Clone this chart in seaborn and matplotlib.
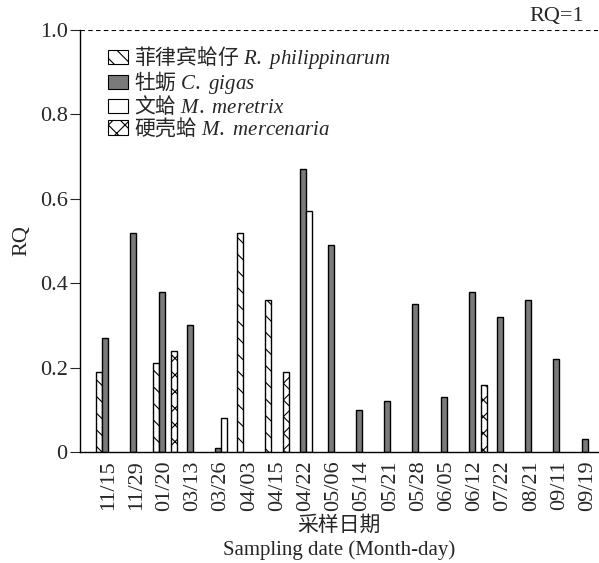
import numpy as np
import pandas as pd
import matplotlib
matplotlib.use("Agg")
import matplotlib.pyplot as plt
from matplotlib.patches import Patch
import seaborn as sns

dates = ["11/15", "11/29", "01/20", "03/13", "03/26", "04/03", "04/15", "04/22", "05/06",
         "05/14", "05/21", "05/28", "06/05", "06/12", "07/22", "08/21", "09/11", "09/19"]
species = ["phil", "gigas", "meretrix", "mercenaria"]
labels = ["$\\mathrm{菲律宾蛤仔}\\ \\mathit{R.\\ philippinarum}$",
          "$\\mathrm{牡蛎}\\ \\mathit{C.\\ gigas}$",
          "$\\mathrm{文蛤}\\ \\mathit{M.\\ meretrix}$",
          "$\\mathrm{硬壳蛤}\\ \\mathit{M.\\ mercenaria}$"]

phil = {"11/15": 0.19, "01/20": 0.21, "04/03": 0.52, "04/15": 0.36}
gigas = {"11/15": 0.27, "11/29": 0.52, "01/20": 0.38, "03/13": 0.30, "03/26": 0.01,
         "04/22": 0.67, "05/06": 0.49, "05/14": 0.10, "05/21": 0.12, "05/28": 0.35,
         "06/05": 0.13, "06/12": 0.38, "07/22": 0.32, "08/21": 0.36, "09/11": 0.22,
         "09/19": 0.03}
meretrix = {"03/26": 0.08, "04/22": 0.57}
mercenaria = {"01/20": 0.24, "04/15": 0.19, "06/12": 0.16}

rows = []
for sp, d in zip(species, [phil, gigas, meretrix, mercenaria]):
    for k, v in d.items():
        rows.append({"date": k, "species": sp, "RQ": v})
df = pd.DataFrame(rows)

sns.set_style("ticks")
plt.rcParams['font.family'] = ['Liberation Serif', 'Noto Sans CJK SC']
plt.rcParams['mathtext.fontset'] = 'custom'
plt.rcParams['mathtext.it'] = 'Liberation Serif:italic'
plt.rcParams['mathtext.rm'] = 'Noto Sans CJK SC'
plt.rcParams['hatch.linewidth'] = 0.8

fig = plt.figure(figsize=(5.99, 5.63), dpi=100)
ax = fig.add_axes([0.1336, 0.197, 0.864, 0.75])

facecolors = {"phil": "white", "gigas": "#7a7a7a", "meretrix": "white", "mercenaria": "white"}
hatches = {"phil": "\\\\", "gigas": "", "meretrix": "", "mercenaria": "xx"}

sns.barplot(data=df, x="date", y="RQ", hue="species", order=dates, hue_order=species,
            palette=facecolors, width=0.85, edgecolor="black", linewidth=1.0,
            ax=ax, legend=False, errorbar=None)

handles = []
for cont, sp, lab in zip(ax.containers, species, labels):
    for p in cont.patches:
        p.set_facecolor(facecolors[sp])
        p.set_hatch(hatches[sp])
        p.set_edgecolor("black")
    handles.append(Patch(facecolor=facecolors[sp], edgecolor="black", hatch=hatches[sp],
                         linewidth=0.8, label=lab))

ax.axhline(1.0, ls=(0, (4, 3)), color="black", lw=0.8)
ax.text(0.973, 1.008, "RQ=1", transform=ax.transAxes, ha="right", va="bottom", fontsize=16)

ax.set_ylim(0, 1.0)
ax.set_xlim(-1.0, 17.35)
ax.set_yticks([0, 0.2, 0.4, 0.6, 0.8, 1.0])
ax.set_yticklabels(["0", "0.2", "0.4", "0.6", "0.8", "1.0"])
ax.tick_params(axis="y", direction="out", length=7, width=0.8, labelsize=16, pad=2)
ax.tick_params(axis="x", length=0, labelsize=16, rotation=90, pad=6)
for s in ["top", "right"]:
    ax.spines[s].set_visible(False)
for s in ["left", "bottom"]:
    ax.spines[s].set_linewidth(1.0)
    ax.spines[s].set_color("black")

ax.set_ylabel("RQ", fontsize=16, labelpad=6)
ax.set_xlabel("采样日期\nSampling date (Month-day)", fontsize=15, linespacing=1.25, labelpad=4)

ax.legend(handles=handles, loc="upper left", bbox_to_anchor=(0.03, 0.995), frameon=False,
          fontsize=15, handlelength=0.95, handleheight=0.7, handletextpad=0.3,
          labelspacing=-0.1, borderaxespad=0.2)

fig.savefig("out.png", dpi=100)
